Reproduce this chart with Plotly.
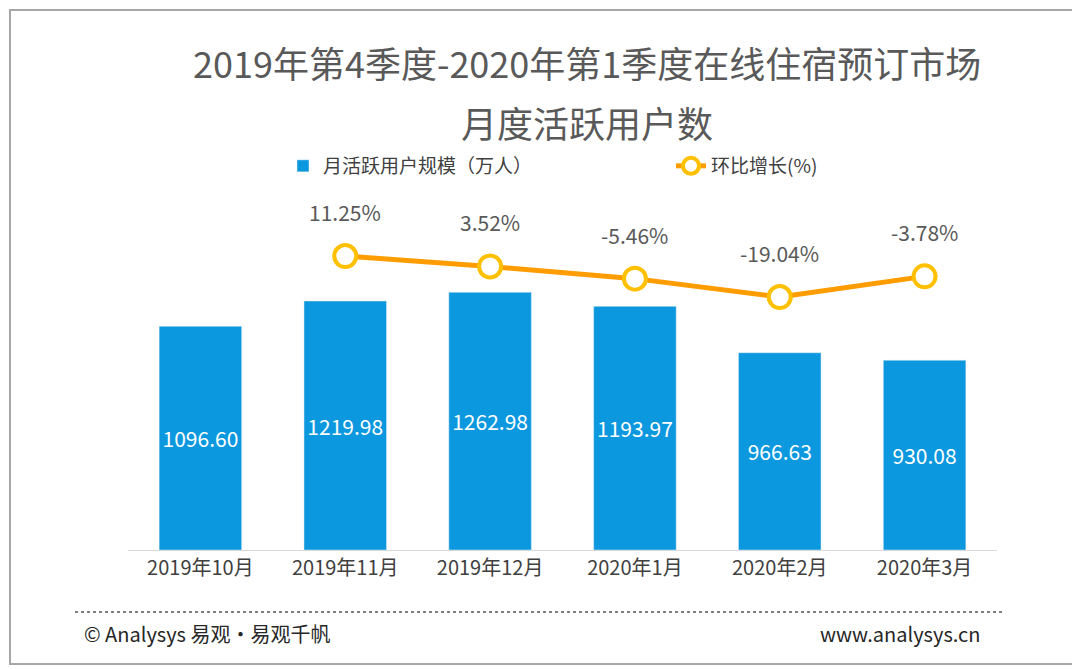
import plotly.graph_objects as go

months = ["2019年10月", "2019年11月", "2019年12月", "2020年1月", "2020年2月", "2020年3月"]
users = [1096.60, 1219.98, 1262.98, 1193.97, 966.63, 930.08]
growth_months = months[1:]
growth = [11.25, 3.52, -5.46, -19.04, -3.78]

font = "Noto Sans CJK SC"
OFF = 8  # page body margin
L, R_, T, B = 128 - OFF, 83 + OFF, 180 - OFF, 119 + OFF
W, H = 1080 - L - R_, 669 - T - B
def px(x): return (x - OFF - L) / W
def py(y): return (669 - B - (y - OFF)) / H

fig = go.Figure()
fig.add_trace(go.Bar(
    x=months, y=users, name="月活跃用户规模（万人）", marker_color="#0c98de", width=0.57,
    text=[f"{v:.2f}" for v in users], textposition="inside", insidetextanchor="middle",
    textfont=dict(color="white", size=21, family=font), cliponaxis=False))
fig.add_trace(go.Scatter(
    x=growth_months, y=growth, name="环比增长(%)", yaxis="y2", mode="lines+markers",
    line=dict(color="#ff9c00", width=5),
    marker=dict(size=22, color="white", line=dict(color="#ffc000", width=4)),
    cliponaxis=False))

fig.update_layout(
    width=1080, height=669, plot_bgcolor="white", paper_bgcolor="white",
    margin=dict(l=L, r=R_, t=T, b=B, autoexpand=False),
    font=dict(family=font, color="#595959"),
    xaxis=dict(showline=True, linecolor="#d9d9d9", linewidth=1, tickfont=dict(size=20, color="#404040"), ticks=""),
    yaxis=dict(range=[0, 1813], visible=False),
    yaxis2=dict(range=[-205.9, 67.4], overlaying="y", visible=False),
    legend=dict(orientation="h", x=px(283), xanchor="left", y=py(185), yanchor="bottom",
                font=dict(size=19, color="#404040"), entrywidth=343),
)
for m, g in zip(growth_months, growth):
    fig.add_annotation(x=m, y=g, yref="y2", text=f"{g:.2f}%", showarrow=False, yshift=44,
                       font=dict(color="#595959", size=21))
anns = [
    dict(text="2019年第4季度-2020年第1季度在线住宿预订市场", x=px(587), y=py(62), font=dict(size=36, color="#595959")),
    dict(text="月度活跃用户数", x=px(587), y=py(122), font=dict(size=36, color="#595959")),
    dict(text="© Analysys 易观·易观千帆", x=px(82), xanchor="left", y=py(633), font=dict(size=20, color="#262626")),
    dict(text="www.analysys.cn", x=px(982), xanchor="right", y=py(633), font=dict(size=20, color="#262626")),
]
for a in anns:
    fig.add_annotation(xref="paper", yref="paper", showarrow=False, yanchor="middle", **a)
fig.add_shape(type="line", xref="paper", yref="paper", x0=px(75), x1=px(1005), y0=py(612), y1=py(612),
              line=dict(color="#7f7f7f", width=2, dash="dot"))
fig.add_shape(type="rect", xref="paper", yref="paper", x0=px(10), x1=px(1074),
              y0=py(664), y1=py(10), line=dict(color="#a6a6a6", width=2))
fig.write_html("out.html")
